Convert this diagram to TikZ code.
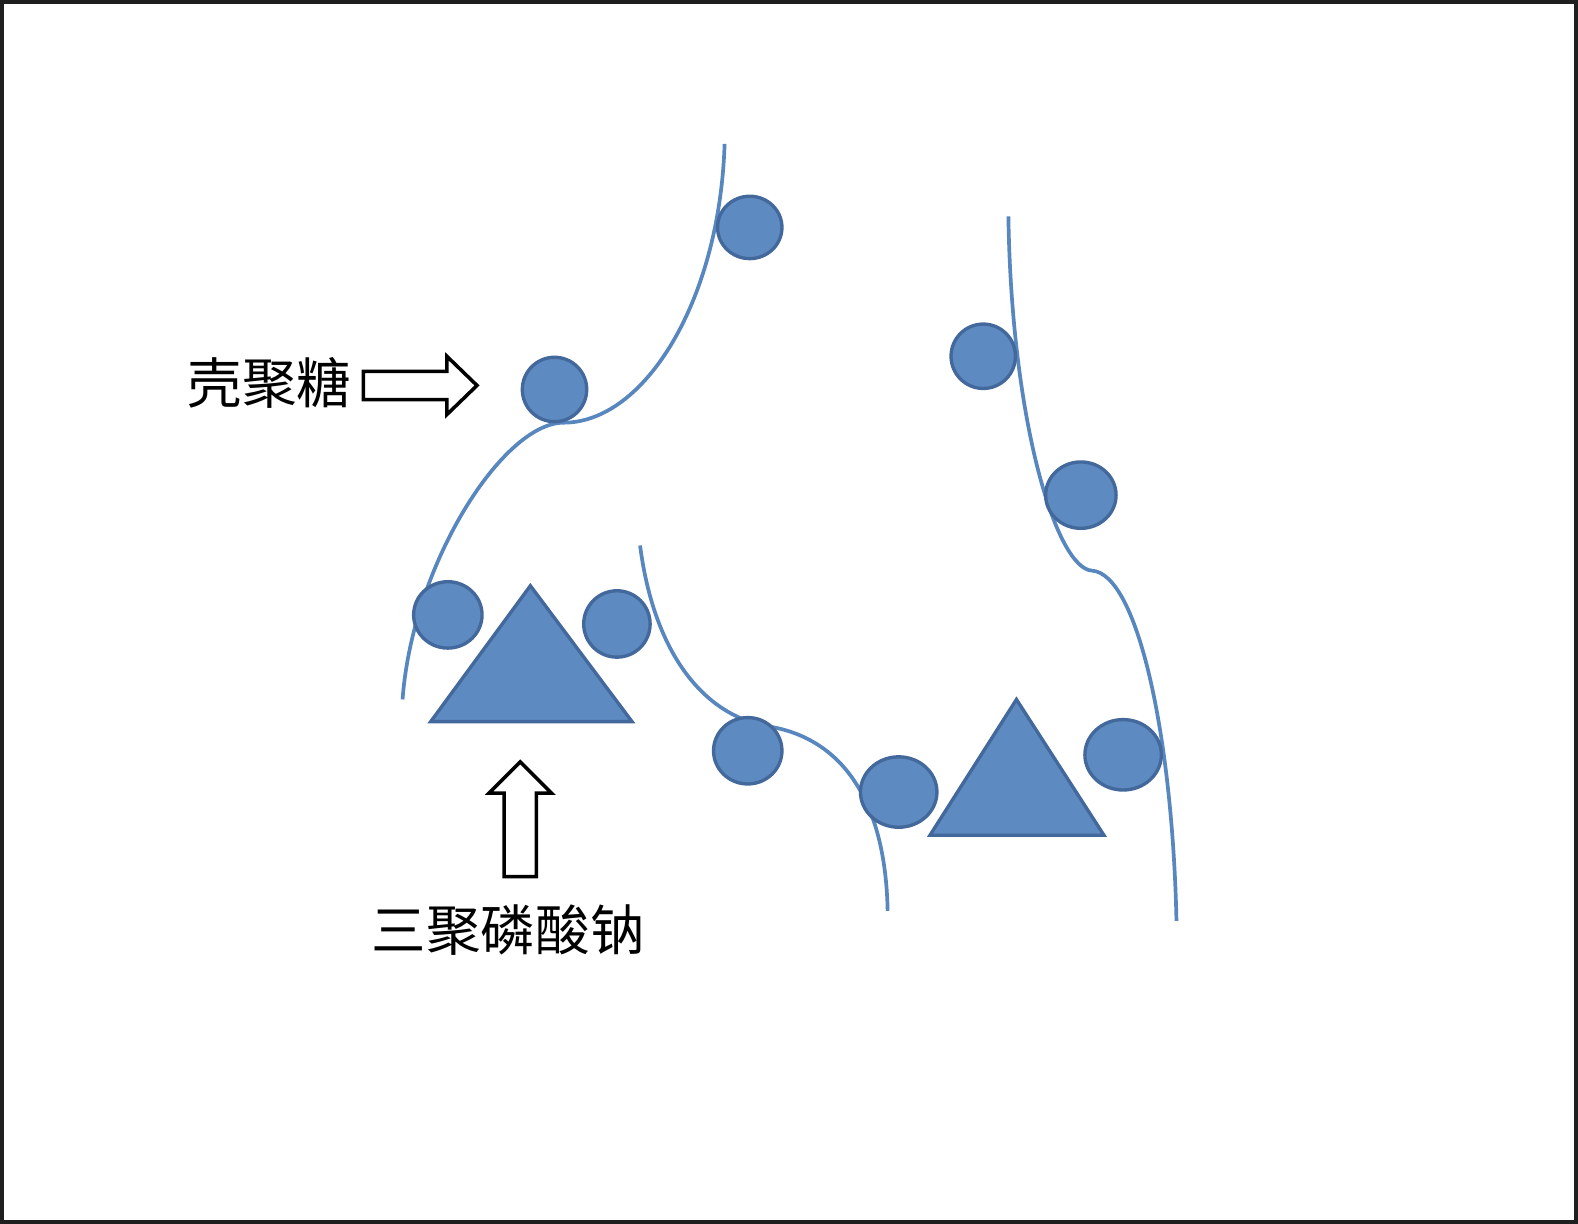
\documentclass[tikz,border=0pt]{standalone}
\usepackage{fontspec}
\newfontfamily\cjk{Noto Sans CJK SC}
\definecolor{beadBlue}{RGB}{93,138,192}
\definecolor{beadEdge}{RGB}{67,104,156}
\definecolor{chainBlue}{RGB}{88,134,190}
\colorlet{frameGrey}{black!88}

\begin{document}
\begin{tikzpicture}[x=0.01006cm,y=-0.01006cm,
    chain/.style={draw=chainBlue,line width=1.05pt},
    bead/.style={fill=beadBlue,draw=beadEdge,line width=0.95pt},
    hollow/.style={draw=black,fill=white,line width=1pt,line join=miter},
    tag/.style={font=\cjk\fontsize{15.5pt}{16pt}\selectfont,inner sep=0pt}]
    \useasboundingbox (0,0) rectangle (1568,1216);
    \draw[frameGrey,line width=1.1pt] (2,2) rectangle (1566,1214);
    % chitosan chains
    \draw[chain] (400,695) .. controls (410,560) and (500,420) .. (560,420) .. controls (640,420) and (715,300) .. (720,143);
    \draw[chain] (636,542) .. controls (650,650) and (700,712) .. (765,722) .. controls (840,735) and (880,800) .. (882,905);
    \draw[chain] (1002,215) .. controls (1005,420) and (1050,565) .. (1085,567) .. controls (1130,570) and (1165,730) .. (1169,915);
    % beads on the chains
    \foreach \cx/\cy/\rx/\ry in {745/226/32/31, 551/387/32/32, 445/611/34/33, 613/620/33/33,
        743/746/34/33, 893/787/38/35, 977/354/32/32, 1074/492/35/33, 1116/750/38/35}
        \draw[bead] (\cx,\cy) ellipse [x radius=\rx, y radius=\ry];
    % tripolyphosphate
    \draw[bead] (527,582) -- (628,717) -- (428,717) -- cycle;
    \draw[bead] (1010,695) -- (1097,830) -- (924,830) -- cycle;
    % pointers
    \draw[hollow] (361,369) -- (444,369) -- (444,354) -- (474,383) -- (444,412) -- (444,397) -- (361,397) -- cycle;
    \draw[hollow] (501,871) -- (501,788) -- (486,788) -- (517,757) -- (548,788) -- (533,788) -- (533,871) -- cycle;
    \node[tag] (chitosan) at (268,381) {壳聚糖};
    \node[tag] (tpp) at (505,924) {三聚磷酸钠};
\end{tikzpicture}
\end{document}
